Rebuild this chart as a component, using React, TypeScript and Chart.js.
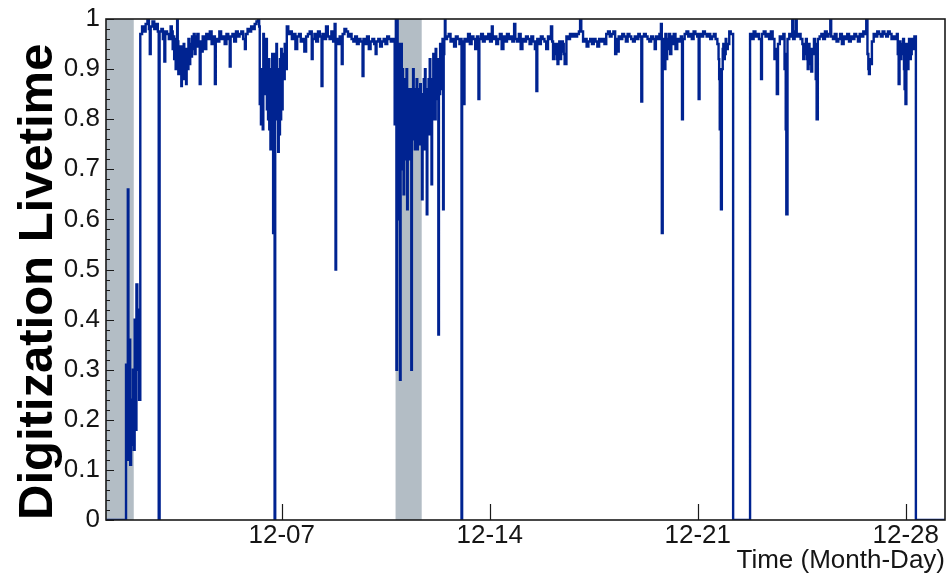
import React, { useEffect, useRef } from 'react';
import { Chart, registerables } from 'chart.js';

Chart.register(...registerables);

// Time in days of December (day-of-month, fractional) -> digitization livetime
const rampUp: [number, number][] = [
  [1.086, 0], [1.76, 0.31], [1.79, 0.12], [1.82, 0.66], [1.84, 0.14], [1.87, 0.36], [1.9, 0.11],
  [1.93, 0.24], [1.96, 0.15], [1.99, 0.3], [2.02, 0.14], [2.05, 0.4], [2.08, 0.18], [2.11, 0.47],
  [2.14, 0.3], [2.17, 0.42], [2.2, 0.24],
];

const week1: [number, number][] = [
  [2.24, 0.97], [2.3, 0.985], [2.36, 0.975], [2.42, 0.99], [2.48, 1.0], [2.53, 0.98], [2.56, 0.93],
  [2.59, 0.985], [2.65, 0.995], [2.71, 0.98], [2.77, 0.99], [2.83, 0.975], [2.86, 0], [2.89, 0.975],
  [2.95, 0.98], [3.0, 0.96], [3.05, 0.915], [3.08, 0.975], [3.14, 0.97], [3.2, 0.96], [3.26, 0.985],
  [3.3, 0.975], [3.33, 0.94], [3.35, 0.965], [3.38, 0.92], [3.4, 0.96], [3.43, 0.9], [3.45, 0.95],
  [3.48, 1.0], [3.5, 0.955], [3.52, 0.89], [3.55, 0.94], [3.57, 0.9], [3.59, 0.945], [3.62, 0.866],
  [3.64, 0.93], [3.67, 0.9], [3.7, 0.95], [3.72, 0.88], [3.75, 0.94], [3.78, 0.87], [3.8, 0.93],
  [3.83, 0.9], [3.86, 0.96], [3.89, 0.91], [3.92, 0.95], [3.95, 0.925], [3.98, 0.965], [4.01, 0.94],
  [4.04, 0.97], [4.07, 0.93], [4.1, 0.965], [4.13, 0.945], [4.16, 0.97], [4.2, 0.955], [4.24, 0.87],
  [4.27, 0.955], [4.31, 0.935], [4.34, 0.965], [4.4, 0.94], [4.46, 0.97], [4.52, 0.96],
  [4.58, 0.975], [4.64, 0.95], [4.7, 0.965], [4.75, 0.87], [4.78, 0.96], [4.84, 0.955], [4.9, 0.975],
  [4.96, 0.96], [5.02, 0.965], [5.08, 0.95], [5.14, 0.97], [5.2, 0.96], [5.25, 0.905], [5.28, 0.965],
  [5.34, 0.97], [5.4, 0.955], [5.46, 0.975], [5.52, 0.965], [5.58, 0.97], [5.64, 0.975], [5.7, 0.96],
  [5.76, 0.94], [5.79, 0.97], [5.85, 0.98], [5.91, 0.975], [5.97, 0.985], [6.03, 0.98], [6.09, 0.99],
  [6.15, 0.995], [6.2, 1.0],
];

const dip1: [number, number][] = [
  [6.24, 0.985], [6.26, 0.83], [6.28, 0.9], [6.3, 0.79], [6.32, 0.85], [6.34, 0.8], [6.36, 0.78],
  [6.38, 0.97], [6.4, 0.9], [6.42, 0.95], [6.44, 0.85], [6.46, 0.93], [6.48, 0.96], [6.5, 0.82],
  [6.52, 0.9], [6.54, 0.8], [6.56, 0.92], [6.58, 0.78], [6.6, 0.88], [6.62, 0.74], [6.64, 0.9],
  [6.66, 0.8], [6.68, 0.93], [6.7, 0.75], [6.71, 0.573], [6.73, 0.9], [6.76, 0], [6.78, 0.93],
  [6.8, 0.82], [6.82, 0.95], [6.84, 0.8], [6.86, 0.9], [6.88, 0.735], [6.9, 0.88], [6.92, 0.77],
  [6.94, 0.92], [6.96, 0.8], [6.98, 0.94], [7.0, 0.82], [7.03, 0.93], [7.06, 0.88], [7.1, 0.95],
  [7.14, 0.9],
];

const week2: [number, number][] = [
  [7.17, 0.985], [7.22, 0.97], [7.28, 0.975], [7.34, 0.96], [7.4, 0.97], [7.46, 0.94], [7.52, 0.965],
  [7.58, 0.97], [7.64, 0.955], [7.7, 0.96], [7.76, 0.935], [7.82, 0.965], [7.88, 0.97], [7.94, 0.975],
  [8.01, 0.92], [8.04, 0.96], [8.1, 0.97], [8.16, 0.955], [8.22, 0.975], [8.28, 0.965], [8.34, 0.866],
  [8.37, 0.97], [8.43, 0.96], [8.49, 0.985], [8.55, 0.965], [8.61, 0.96], [8.67, 0.975], [8.73, 0.955],
  [8.78, 0.99], [8.81, 0.5], [8.83, 0.96], [8.89, 0.95], [8.95, 0.965], [9.02, 0.91], [9.05, 0.97],
  [9.11, 0.98], [9.17, 0.975], [9.23, 0.965], [9.29, 0.97], [9.35, 0.96], [9.41, 0.955], [9.47, 0.965],
  [9.53, 0.95], [9.59, 0.96], [9.65, 0.955], [9.72, 0.886], [9.75, 0.96], [9.81, 0.95], [9.87, 0.965],
  [9.93, 0.94], [9.99, 0.955], [10.05, 0.96], [10.11, 0.95], [10.16, 0.93], [10.19, 0.955],
  [10.25, 0.96], [10.31, 0.945], [10.37, 0.955], [10.43, 0.96], [10.49, 0.95], [10.55, 0.965],
  [10.61, 0.96], [10.67, 0.955], [10.73, 0.96],
];

const dip2: [number, number][] = [
  [10.8, 0.79], [10.82, 0.95], [10.84, 1.0], [10.86, 0.3], [10.88, 1.0], [10.9, 0.75], [10.92, 0.6],
  [10.94, 0.95], [10.96, 0.8], [10.98, 0.28], [11.0, 0.9], [11.02, 0.95], [11.04, 0.7], [11.06, 0.9],
  [11.08, 0.78], [11.1, 0.65], [11.12, 0.88], [11.14, 0.76], [11.16, 0.85], [11.18, 0.72], [11.2, 0.9],
  [11.22, 0.62], [11.24, 0.86], [11.26, 0.76], [11.28, 0.84], [11.3, 0.72], [11.32, 0.86],
  [11.34, 0.78], [11.36, 0.3], [11.38, 0.85], [11.4, 0.76], [11.42, 0.9], [11.44, 0.78], [11.46, 0.86],
  [11.48, 0.74], [11.5, 0.84], [11.52, 0.77], [11.54, 0.88], [11.56, 0.74], [11.58, 0.83],
  [11.6, 0.76], [11.62, 0.86], [11.64, 0.75], [11.66, 0.87], [11.68, 0.78], [11.7, 0.84],
  [11.72, 0.64], [11.74, 0.85], [11.76, 0.76], [11.78, 0.88], [11.8, 0.74], [11.82, 0.9],
  [11.84, 0.78], [11.86, 0.85], [11.88, 0.61], [11.9, 0.86], [11.92, 0.77], [11.94, 0.88],
  [11.96, 0.8], [11.98, 0.92], [12.0, 0.77], [12.02, 0.86], [12.04, 0.67], [12.06, 0.88],
  [12.08, 0.8], [12.1, 0.93], [12.12, 0.82], [12.14, 0.9], [12.16, 0.8], [12.18, 0.94],
  [12.2, 0.84], [12.22, 0.92], [12.25, 0.85], [12.27, 0.37], [12.29, 0.92], [12.31, 0.85],
  [12.33, 0.95], [12.35, 0.86], [12.37, 0.94], [12.39, 0.88], [12.41, 0.96], [12.43, 0.62],
  [12.45, 0.93], [12.47, 0.96], [12.49, 1.0], [12.51, 0.96],
];

const week3: [number, number][] = [
  [12.56, 0.965], [12.62, 0.97], [12.68, 0.955], [12.74, 0.96], [12.8, 0.945], [12.86, 0.965],
  [12.92, 0.96], [12.98, 0.95], [13.02, 0.96], [13.05, 0], [13.07, 0.955], [13.12, 0.83], [13.15, 0.96],
  [13.21, 0.955], [13.27, 0.97], [13.33, 0.95], [13.39, 0.965], [13.45, 0.96], [13.51, 0.94],
  [13.57, 0.965], [13.62, 0.84], [13.65, 0.96], [13.71, 0.97], [13.77, 0.955], [13.83, 0.965],
  [13.89, 0.96], [13.95, 0.97], [14.01, 0.955], [14.07, 0.985], [14.1, 0.96], [14.16, 0.965],
  [14.22, 0.95], [14.28, 0.96], [14.34, 0.97], [14.4, 0.94], [14.46, 0.965], [14.52, 0.955],
  [14.58, 0.97], [14.64, 0.96], [14.7, 0.965], [14.76, 0.955], [14.82, 0.99], [14.86, 0.96],
  [14.92, 0.955], [14.98, 0.97], [15.04, 0.94], [15.1, 0.96], [15.16, 0.955], [15.22, 0.965],
  [15.28, 0.96], [15.34, 0.95], [15.4, 0.965], [15.46, 0.955], [15.52, 0.94], [15.57, 0.856],
  [15.6, 0.96], [15.66, 0.95], [15.72, 0.965], [15.78, 0.96], [15.84, 0.955], [15.9, 0.94],
  [15.96, 0.965], [16.02, 0.96], [16.06, 0.985], [16.1, 0.955], [16.13, 0.92], [16.16, 0.95],
  [16.19, 0.93], [16.22, 0.95], [16.25, 0.92], [16.28, 0.91], [16.31, 0.95], [16.34, 0.955],
  [16.37, 0.92], [16.4, 0.935], [16.43, 0.955], [16.46, 0.95], [16.49, 0.93], [16.52, 0.91],
  [16.58, 0.965],
  [16.64, 0.96], [16.7, 0.97], [16.76, 0.965], [16.82, 0.97], [16.88, 0.965], [16.94, 0.97],
  [17.0, 0.975], [17.04, 1.0], [17.08, 0.975], [17.14, 0.955], [17.2, 0.96], [17.26, 0.945],
  [17.32, 0.955], [17.38, 0.96], [17.44, 0.95], [17.5, 0.96], [17.56, 0.955], [17.62, 0.945],
  [17.68, 0.96], [17.74, 0.955], [17.8, 0.96], [17.86, 0.95], [17.92, 0.97], [17.98, 0.975],
  [18.04, 0.965], [18.1, 0.97], [18.16, 0.975], [18.22, 0.93], [18.26, 0.96], [18.3, 0.935],
  [18.34, 0.965], [18.4, 0.96], [18.46, 0.97], [18.52, 0.965], [18.58, 0.955], [18.64, 0.97],
  [18.7, 0.965], [18.76, 0.96], [18.82, 0.955], [18.88, 0.965], [18.94, 0.96], [19.0, 0.97],
  [19.05, 0.965], [19.1, 0.835], [19.13, 0.965], [19.19, 0.97], [19.25, 0.965], [19.31, 0.96],
  [19.37, 0.955], [19.43, 0.965], [19.49, 0.96], [19.55, 0.94], [19.59, 0.965], [19.65, 0.96],
  [19.71, 0.97], [19.76, 0.99], [19.79, 0.573], [19.82, 0.93], [19.85, 0.96], [19.88, 0.9],
  [19.91, 0.97], [19.94, 0.92], [19.97, 0.96], [20.0, 0.94], [20.03, 0.97], [20.07, 0.93],
  [20.11, 0.965], [20.15, 0.95], [20.19, 0.97], [20.25, 0.94], [20.31, 0.96], [20.37, 0.955],
  [20.43, 0.965], [20.47, 0.8], [20.5, 0.96], [20.56, 0.97], [20.62, 0.975], [20.68, 0.965],
  [20.74, 0.97], [20.8, 0.96], [20.86, 0.975], [20.92, 0.97], [20.98, 0.965], [21.03, 0.84],
  [21.06, 0.97], [21.12, 0.965], [21.18, 0.975], [21.24, 0.97], [21.3, 0.965], [21.36, 0.97],
  [21.42, 0.96], [21.48, 0.965], [21.54, 0.97], [21.6, 0.96], [21.66, 0.95], [21.7, 0.92],
  [21.72, 0.88], [21.74, 0.78], [21.76, 0.9], [21.78, 0.62], [21.81, 0.9], [21.84, 0.94],
  [21.86, 0.95], [21.88, 0.92], [21.91, 0.93], [21.94, 0.96], [21.96, 0.94],
  [22.01, 0.95], [22.06, 0.975], [22.11, 0.97], [22.19, 0],
];

const week4: [number, number][] = [
  [22.76, 0.97], [22.82, 0.96], [22.88, 0.975], [22.94, 0.965], [23.0, 0.97], [23.06, 0.96],
  [23.13, 0.88], [23.16, 0.97], [23.22, 0.975], [23.28, 0.965], [23.34, 0.97], [23.4, 0.96],
  [23.46, 0.975], [23.52, 0.96], [23.58, 0.92], [23.62, 0.94], [23.66, 0.85], [23.7, 0.95],
  [23.76, 0.965], [23.82, 0.96], [23.88, 0.97], [23.92, 0.9], [23.94, 0.93], [23.96, 0.78],
  [23.98, 0.61], [24.02, 0.96],
  [24.08, 0.97], [24.14, 0.965], [24.18, 1.0], [24.21, 0.96], [24.26, 0.975], [24.3, 1.0],
  [24.33, 0.965], [24.4, 0.97], [24.46, 0.96], [24.52, 0.95], [24.55, 0.92], [24.58, 0.93],
  [24.61, 0.95], [24.64, 0.96], [24.67, 0.92],
  [24.7, 0.9], [24.73, 0.95], [24.76, 0.94], [24.79, 0.91], [24.82, 0.895], [24.85, 0.94],
  [24.88, 0.93], [24.91, 0.96], [24.94, 0.95], [24.97, 0.88], [25.0, 0.8],
  [25.04, 0.96], [25.1, 0.965], [25.16, 0.97], [25.22, 0.96], [25.28, 0.975], [25.34, 0.965],
  [25.4, 0.97], [25.46, 1.0], [25.49, 0.965], [25.55, 0.96], [25.61, 0.97], [25.67, 0.955],
  [25.73, 0.96], [25.79, 0.97], [25.85, 0.95], [25.91, 0.965], [25.97, 0.96], [26.03, 0.97],
  [26.09, 0.955], [26.15, 0.965], [26.21, 0.96], [26.27, 0.97], [26.33, 0.965], [26.39, 0.955],
  [26.45, 0.97], [26.51, 0.965], [26.57, 0.975], [26.63, 0.97], [26.67, 1.0], [26.71, 0.93],
  [26.74, 0.9], [26.76, 0.89], [26.79, 0.92], [26.81, 0.91], [26.86, 0.955], [26.92, 0.97],
  [26.98, 0.965], [27.04, 0.975],
  [27.1, 0.97], [27.16, 0.965], [27.22, 0.975], [27.28, 0.97], [27.34, 0.965], [27.4, 0.975],
  [27.46, 0.97], [27.52, 0.96], [27.58, 0.965], [27.64, 0.96], [27.7, 0.97], [27.73, 0.93],
  [27.76, 0.87], [27.79, 0.955], [27.82, 0.92], [27.85, 0.93], [27.88, 0.95], [27.91, 0.96],
  [27.94, 0.9], [27.96, 0.86], [27.99, 0.83], [28.02, 0.95], [28.05, 0.92], [28.07, 0.9],
  [28.09, 0.95], [28.11, 0.96], [28.14, 0.92], [28.17, 0.93], [28.2, 0.96], [28.23, 0.94],
  [28.26, 0.96], [28.29, 0.965], [28.34, 0], [29.32, 0],
];

// Shaded periods (days)
const bandStarts = [1.086, 10.83];
const bandEnds = [2.02, 11.71];

const xMin = 1.086;
const xMax = 29.32;
const xTickValues = [7, 14, 21, 28];
const xTickLabels = ['12-07', '12-14', '12-21', '12-28'];
const yTickValues = [0, 0.1, 0.2, 0.3, 0.4, 0.5, 0.6, 0.7, 0.8, 0.9, 1];
const yTickLabels = ['0', '0.1', '0.2', '0.3', '0.4', '0.5', '0.6', '0.7', '0.8', '0.9', '1'];

const FONT = "'Liberation Sans', Arial, Helvetica, sans-serif";
const LINE_COLOR = '#002391';
const BAND_COLOR = '#b3bdc5';
const TEXT_COLOR = '#151515';

const decorPlugin = {
  id: 'decor',
  beforeDatasetsDraw(chart: any) {
    const { ctx, chartArea: a, scales } = chart;
    const x = scales.x;
    ctx.save();
    ctx.fillStyle = BAND_COLOR;
    bandStarts.forEach((s, i) => {
      const x0 = x.getPixelForValue(s);
      const x1 = x.getPixelForValue(bandEnds[i]);
      ctx.fillRect(x0, a.top, x1 - x0, a.bottom - a.top);
    });
    ctx.restore();
  },
  afterDatasetsDraw(chart: any) {
    const { ctx, chartArea: a, scales } = chart;
    const x = scales.x;
    const y = scales.y;
    ctx.save();
    ctx.strokeStyle = '#1a1a1a';
    ctx.lineWidth = 1.6;
    ctx.strokeRect(a.left, a.top, a.right - a.left, a.bottom - a.top);
    ctx.lineWidth = 1.2;
    ctx.beginPath();
    for (let k = 0; k <= 50; k++) {
      const py = Math.round(y.getPixelForValue(k / 50)) + 0.5;
      const len = k % 5 === 0 ? 8 : 4;
      ctx.moveTo(a.left, py);
      ctx.lineTo(a.left + len, py);
    }
    xTickValues.forEach((v) => {
      const px = Math.round(x.getPixelForValue(v)) + 0.5;
      ctx.moveTo(px, a.bottom);
      ctx.lineTo(px, a.bottom - 16);
    });
    ctx.stroke();
    ctx.restore();
  },
};

export default function App() {
  const canvasRef = useRef<HTMLCanvasElement | null>(null);

  useEffect(() => {
    const canvas = canvasRef.current;
    if (!canvas) return;
    const points = [...rampUp, ...week1, ...dip1, ...week2, ...dip2, ...week3, ...week4].map(
      ([t, v]) => ({ x: t, y: v })
    );
    const chart = new Chart(canvas, {
      type: 'line',
      data: {
        datasets: [
          {
            data: points,
            borderColor: LINE_COLOR,
            backgroundColor: LINE_COLOR,
            borderWidth: 2.4,
            pointRadius: 0,
            stepped: true,
            fill: false,
          },
        ],
      },
      options: {
        animation: false,
        responsive: false,
        maintainAspectRatio: false,
        events: [],
        layout: { padding: { top: 14, right: 2, left: 0, bottom: 0 } },
        plugins: { legend: { display: false }, tooltip: { enabled: false } },
        scales: {
          x: {
            type: 'linear',
            min: xMin,
            max: xMax,
            afterBuildTicks: (s: any) => {
              s.ticks = xTickValues.map((v) => ({ value: v }));
            },
            afterFit: (s: any) => {
              s.height = 57;
            },
            grid: { display: false, drawTicks: false },
            border: { display: false },
            ticks: {
              autoSkip: false,
              maxRotation: 0,
              minRotation: 0,
              padding: 3,
              color: TEXT_COLOR,
              font: { family: FONT, size: 26, lineHeight: 1 },
              callback: (v: any) => xTickLabels[xTickValues.indexOf(Number(v))] ?? '',
            },
            title: {
              display: true,
              text: 'Time (Month-Day)',
              align: 'end',
              color: TEXT_COLOR,
              font: { family: FONT, size: 26, lineHeight: 1 },
              padding: { top: 0, bottom: 3 },
            },
          },
          y: {
            type: 'linear',
            min: 0,
            max: 1,
            afterBuildTicks: (s: any) => {
              s.ticks = yTickValues.map((v) => ({ value: v }));
            },
            afterFit: (s: any) => {
              s.width = 106;
            },
            grid: { display: false, drawTicks: false },
            border: { display: false },
            ticks: {
              padding: 6,
              color: TEXT_COLOR,
              font: { family: FONT, size: 26, lineHeight: 1 },
              callback: (v: any) => {
                const i = yTickValues.findIndex((t) => Math.abs(t - Number(v)) < 1e-6);
                return i >= 0 ? yTickLabels[i] : '';
              },
            },
            title: {
              display: true,
              text: 'Digitization Livetime',
              align: 'start',
              color: '#000',
              font: { family: FONT, size: 49, weight: 'bold', lineHeight: 1 },
              padding: { top: 14, bottom: 0 },
            },
          },
        },
      },
      plugins: [decorPlugin],
    } as any);
    return () => chart.destroy();
  }, []);

  return (
    <div style={{ position: 'absolute', left: 0, top: 0, width: 947, height: 577, background: '#fff' }}>
      <canvas ref={canvasRef} width={947} height={577} style={{ width: 947, height: 577 }} />
    </div>
  );
}
